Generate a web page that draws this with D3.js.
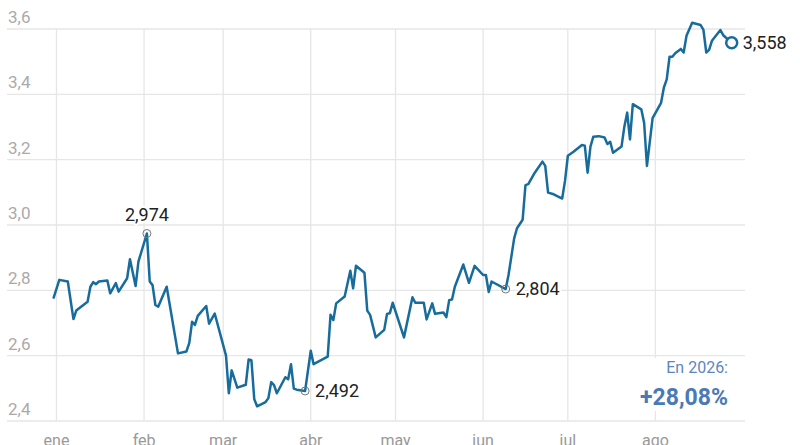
<!DOCTYPE html>
<html>
<head>
<meta charset="utf-8">
<script src="https://cdn.jsdelivr.net/npm/d3@7"></script>
<style>
  html, body { margin: 0; padding: 0; background: #fff; }
  svg { display: block; }
</style>
</head>
<body>
<svg id="chart" width="800" height="445"></svg>
<script>
// ---- data ----
const dates = [
  "2025-12-31","2026-01-02","2026-01-05","2026-01-07","2026-01-08","2026-01-12","2026-01-13","2026-01-14","2026-01-15","2026-01-16",
  "2026-01-19","2026-01-20","2026-01-22","2026-01-23","2026-01-26","2026-01-27","2026-01-29","2026-01-30","2026-02-02","2026-02-03",
  "2026-02-04","2026-02-05","2026-02-06","2026-02-09","2026-02-13","2026-02-16","2026-02-17","2026-02-18","2026-02-19","2026-02-20",
  "2026-02-23","2026-02-24","2026-02-26","2026-03-02","2026-03-03","2026-03-04","2026-03-06","2026-03-09","2026-03-10","2026-03-11",
  "2026-03-12","2026-03-13","2026-03-16","2026-03-17","2026-03-18","2026-03-19","2026-03-20","2026-03-23","2026-03-24","2026-03-25",
  "2026-03-26","2026-03-27","2026-03-30","2026-04-01","2026-04-02","2026-04-07","2026-04-08","2026-04-09","2026-04-10","2026-04-13",
  "2026-04-15","2026-04-16","2026-04-17","2026-04-20","2026-04-21","2026-04-22","2026-04-24","2026-04-27","2026-04-28","2026-04-29",
  "2026-04-30","2026-05-04","2026-05-07","2026-05-08","2026-05-11","2026-05-12","2026-05-14","2026-05-15","2026-05-18","2026-05-19",
  "2026-05-20","2026-05-21","2026-05-22","2026-05-25","2026-05-27","2026-05-29","2026-06-01","2026-06-02","2026-06-03","2026-06-04",
  "2026-06-09","2026-06-10","2026-06-12","2026-06-13","2026-06-15","2026-06-16","2026-06-17","2026-06-19","2026-06-22","2026-06-23",
  "2026-06-24","2026-06-26","2026-06-29","2026-06-30","2026-07-01","2026-07-03","2026-07-06","2026-07-07","2026-07-08","2026-07-09",
  "2026-07-10","2026-07-12","2026-07-14","2026-07-15","2026-07-16","2026-07-17","2026-07-20","2026-07-21","2026-07-22","2026-07-23",
  "2026-07-24","2026-07-27","2026-07-28","2026-07-29","2026-07-31","2026-08-03","2026-08-04","2026-08-05","2026-08-06","2026-08-07",
  "2026-08-08","2026-08-10","2026-08-11","2026-08-12","2026-08-14","2026-08-17","2026-08-18","2026-08-19","2026-08-20","2026-08-21",
  "2026-08-24","2026-08-25","2026-08-28"
];
const values = [
  2.778,2.832,2.827,2.712,2.738,2.765,2.811,2.825,2.819,2.827,
  2.830,2.791,2.822,2.796,2.837,2.895,2.813,2.888,2.974,2.827,
  2.816,2.755,2.750,2.811,2.607,2.613,2.639,2.704,2.694,2.722,
  2.752,2.698,2.729,2.600,2.485,2.555,2.502,2.511,2.588,2.586,
  2.467,2.445,2.458,2.470,2.519,2.510,2.485,2.534,2.528,2.574,
  2.499,2.496,2.492,2.615,2.574,2.597,2.725,2.709,2.760,2.781,
  2.860,2.806,2.875,2.854,2.738,2.725,2.656,2.679,2.728,2.730,
  2.762,2.656,2.779,2.762,2.762,2.711,2.760,2.728,2.732,2.718,
  2.770,2.772,2.811,2.879,2.823,2.875,2.847,2.847,2.795,2.827,
  2.804,2.847,2.959,2.990,3.016,3.122,3.125,3.156,3.194,3.181,
  3.099,3.094,3.081,3.135,3.212,3.224,3.245,3.243,3.160,3.240,
  3.270,3.272,3.268,3.248,3.255,3.221,3.240,3.301,3.344,3.262,
  3.370,3.354,3.313,3.181,3.327,3.374,3.421,3.446,3.515,3.515,
  3.526,3.539,3.528,3.579,3.619,3.612,3.597,3.528,3.536,3.564,
  3.597,3.581,3.558
];
const yTicks = [2.4, 2.6, 2.8, 3.0, 3.2, 3.4, 3.6];
const monthTicks = ["2026-01-01","2026-02-01","2026-03-01","2026-04-01","2026-05-01","2026-06-01","2026-07-01","2026-08-01"];
const monthLabels = ["ene","feb","mar","abr","may","jun","jul","ago"];
const annotations = [
  { date: "2026-02-02", value: 2.974, label: "2,974", pos: "top" },
  { date: "2026-03-30", value: 2.492, label: "2,492", pos: "right" },
  { date: "2026-06-09", value: 2.804, label: "2,804", pos: "right" }
];
const lastLabel = "3,558";
const changeTitle = "En 2026:";
const changeValue = "+28,08%";

// ---- chart ----
const parse = d3.utcParse("%Y-%m-%d");
const data = dates.map((d, i) => ({ date: parse(d), value: values[i] }));

const svg = d3.select("#chart");
const font = "Roboto, 'Liberation Sans', Arial, sans-serif";

const x = d3.scaleUtc()
  .domain([parse("2026-01-01"), parse("2026-09-01")])
  .range([56.5, 743]);
const y = d3.scaleLinear().domain([2.4, 3.6]).range([421, 29]);

const grid = svg.append("g");
grid.selectAll("line.h").data(yTicks).join("line")
  .attr("class", "h")
  .attr("x1", 7).attr("x2", 745)
  .attr("y1", d => y(d)).attr("y2", d => y(d))
  .attr("stroke", "#e6e6e6").attr("stroke-width", 1.3);
grid.selectAll("line.v").data(monthTicks).join("line")
  .attr("class", "v")
  .attr("x1", d => x(parse(d))).attr("x2", d => x(parse(d)))
  .attr("y1", y(3.6)).attr("y2", y(2.4))
  .attr("stroke", "#e6e6e6").attr("stroke-width", 1.3);

// y labels
svg.append("g").selectAll("text").data(yTicks).join("text")
  .attr("x", 8).attr("y", d => y(d) - 6)
  .attr("font-family", font).attr("font-size", 17)
  .attr("fill", "#aaaaaa")
  .text(d => d3.format(".1f")(d).replace(".", ","));

// x labels
svg.append("g").selectAll("text").data(monthTicks).join("text")
  .attr("x", d => x(parse(d))).attr("y", 446)
  .attr("text-anchor", "middle")
  .attr("font-family", font).attr("font-size", 16)
  .attr("fill", "#999999")
  .text((d, i) => monthLabels[i]);

// change box
const box = svg.append("g");
box.append("rect")
  .attr("x", 622).attr("y", 358).attr("width", 115).attr("height", 53)
  .attr("fill", "#fff");
box.append("text")
  .attr("x", 728).attr("y", 373)
  .attr("text-anchor", "end")
  .attr("font-family", font).attr("font-size", 16)
  .attr("fill", "#5b87c0")
  .text(changeTitle);
box.append("text")
  .attr("x", 728).attr("y", 405)
  .attr("text-anchor", "end")
  .attr("font-family", font).attr("font-size", 23).attr("font-weight", "bold")
  .attr("fill", "#4a79b7")
  .text(changeValue);

// line
const line = d3.line().x(d => x(d.date)).y(d => y(d.value));
svg.append("path").datum(data)
  .attr("d", line)
  .attr("fill", "none")
  .attr("stroke", "#176c9c")
  .attr("stroke-width", 2.5)
  .attr("stroke-linejoin", "round")
  .attr("stroke-linecap", "round");

// annotations
annotations.forEach(a => {
  const cx = x(parse(a.date)), cy = y(a.value);
  svg.append("circle")
    .attr("cx", cx).attr("cy", cy).attr("r", 4)
    .attr("fill", "none").attr("stroke", "#777").attr("stroke-width", 1);
  const t = svg.append("text")
    .attr("font-family", font).attr("font-size", 18)
    .attr("fill", "#222")
    .attr("stroke", "#fff").attr("stroke-width", 4).attr("paint-order", "stroke")
    .text(a.label);
  if (a.pos === "top") {
    t.attr("x", cx).attr("y", cy - 12).attr("text-anchor", "middle");
  } else {
    t.attr("x", cx + 10).attr("y", cy + 6).attr("text-anchor", "start");
  }
});

// last point
const last = data[data.length - 1];
svg.append("circle")
  .attr("cx", x(last.date)).attr("cy", y(last.value)).attr("r", 5.5)
  .attr("fill", "#fff").attr("stroke", "#176c9c").attr("stroke-width", 2.5);
svg.append("text")
  .attr("x", x(last.date) + 11).attr("y", y(last.value) + 6)
  .attr("font-family", font).attr("font-size", 18)
  .attr("fill", "#222")
  .text(lastLabel);
</script>
</body>
</html>
